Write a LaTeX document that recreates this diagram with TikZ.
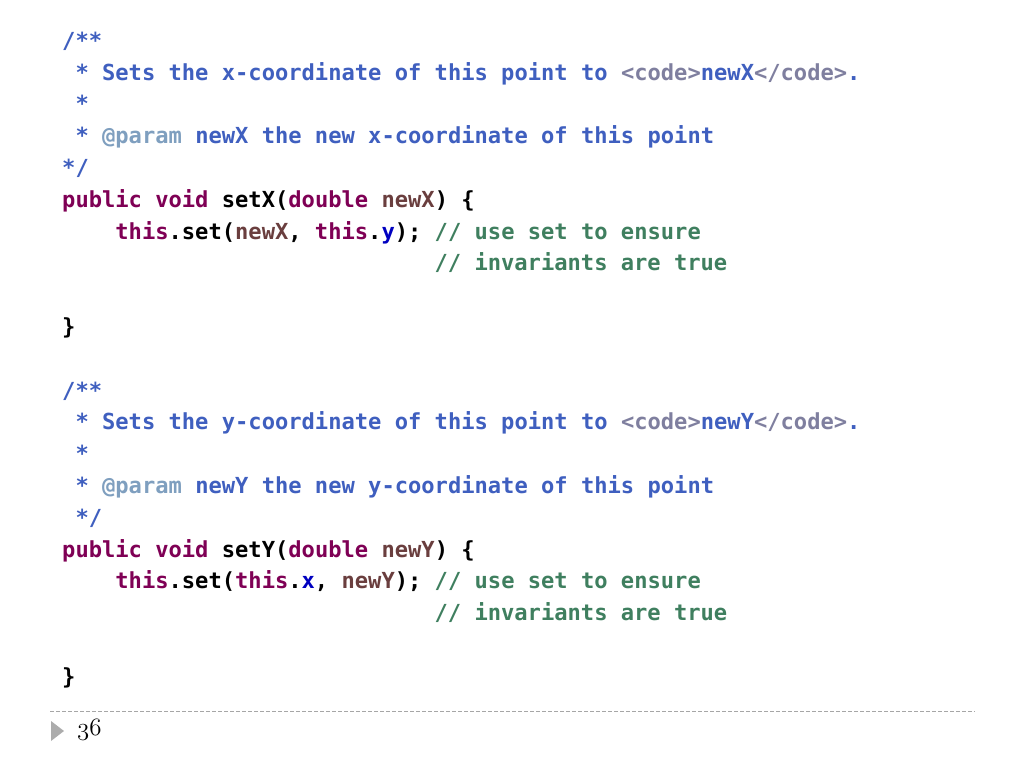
\documentclass[tikz,border=0pt]{standalone}
\usepackage{fontspec}
\usepackage{xcolor}
\newfontfamily\codefont{DejaVu Sans Mono Bold}
\definecolor{javadoc}{HTML}{3F5FBF}
\definecolor{doctag}{HTML}{7F9FBF}
\definecolor{htmltag}{HTML}{7F7F9F}
\definecolor{keyword}{HTML}{7F0055}
\definecolor{localvar}{HTML}{6A3E3E}
\definecolor{field}{HTML}{0000C0}
\definecolor{linecomment}{HTML}{3F7F5F}
\newcommand{\kw}[1]{\textcolor{keyword}{#1}}
\newcommand{\pv}[1]{\textcolor{localvar}{#1}}
\newcommand{\fd}[1]{\textcolor{field}{#1}}
\newcommand{\jd}[1]{\textcolor{javadoc}{#1}}
\newcommand{\htag}[1]{\textcolor{htmltag}{#1}}
\newcommand{\oldnum}[1]{{\fontencoding{OML}\fontfamily{cmm}\fontseries{m}\fontshape{it}\selectfont #1}}

\begin{document}
\begin{tikzpicture}[x=1pt, y=-1pt,
    code/.style={anchor=base west, inner sep=0pt,
        font=\codefont\fontsize{22.1}{26}\selectfont\frenchspacing}]
    \useasboundingbox (0,0) rectangle (1024,768);

    % setX
    \node[code] (a0) at (62, 48.2) {\jd{/**}};
    \node[code] (a1) at (75.3, 80) {\jd{* Sets the x-coordinate of this point to }\htag{<code>}\jd{newX}\htag{</code>}\jd{.}};
    \node[code] (a2) at (75.3, 111.8) {\jd{*}};
    \node[code] (a3) at (75.3, 143.6) {\jd{*}\ \textcolor{doctag}{@param}\ \jd{newX the new x-coordinate of this point}};
    \node[code] (a4) at (62, 175.4) {\jd{*/}};
    \node[code] (a5) at (62, 207.2) {\kw{public void} setX(\kw{double} \pv{newX}) \{};
    \node[code] (a6) at (115.2, 239) {\kw{this}.set(\pv{newX}, \kw{this}.\fd{y}); \textcolor{linecomment}{// use set to ensure}};
    \node[code] (a7) at (434.4, 270.8) {\textcolor{linecomment}{// invariants are true}};
    \node[code] (a9) at (62, 334.4) {\}};

    % setY
    \node[code] (b0) at (62, 398) {\jd{/**}};
    \node[code] (b1) at (75.3, 429.8) {\jd{* Sets the y-coordinate of this point to }\htag{<code>}\jd{newY}\htag{</code>}\jd{.}};
    \node[code] (b2) at (75.3, 461.6) {\jd{*}};
    \node[code] (b3) at (75.3, 493.4) {\jd{*}\ \textcolor{doctag}{@param}\ \jd{newY the new y-coordinate of this point}};
    \node[code] (b4) at (75.3, 525.2) {\jd{*/}};
    \node[code] (b5) at (62, 557) {\kw{public void} setY(\kw{double} \pv{newY}) \{};
    \node[code] (b6) at (115.2, 588.8) {\kw{this}.set(\kw{this}.\fd{x}, \pv{newY}); \textcolor{linecomment}{// use set to ensure}};
    \node[code] (b7) at (434.4, 620.6) {\textcolor{linecomment}{// invariants are true}};
    \node[code] (b9) at (62, 684.2) {\}};

    % footer
    \draw[gray!70, line width=0.8pt, dash pattern=on 4pt off 2pt] (50,711) -- (975,711);
    \fill[gray!65] (51,721) -- (64,731) -- (51,741) -- cycle;
    \node[anchor=base west, inner sep=0pt, font=\fontsize{23}{27}\selectfont] (page) at (77,735) {\oldnum{36}};
\end{tikzpicture}
\end{document}
